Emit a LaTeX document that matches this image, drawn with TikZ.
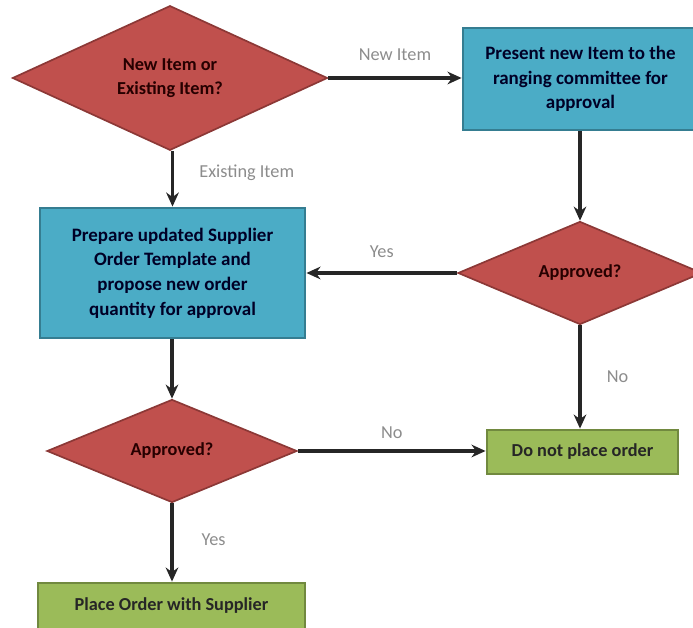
\documentclass[tikz,border=0pt]{standalone}
\usepackage{fontspec}
\setmainfont{Carlito}
\usetikzlibrary{shapes.geometric,arrows.meta}
\definecolor{askfill}{HTML}{C0504D}
\definecolor{askline}{HTML}{8C3836}
\definecolor{dofill}{HTML}{4BACC6}
\definecolor{doline}{HTML}{357D91}
\definecolor{endfill}{HTML}{9BBB59}
\definecolor{endline}{HTML}{71893F}
\tikzset{
  ask/.style={diamond, draw=askline, fill=askfill, line width=1.2pt, inner sep=0pt,
    align=center, text=black!85!red, font=\bfseries\fontsize{13}{17}\selectfont},
  dobox/.style={rectangle, draw=doline, fill=dofill, line width=2pt, inner sep=0pt,
    align=center, text=black!85!blue, font=\bfseries\fontsize{13.5}{17.5}\selectfont},
  endbox/.style={rectangle, draw=endline, fill=endfill, line width=2pt, inner sep=0pt,
    align=center, text=black!85, font=\bfseries\fontsize{13}{17}\selectfont},
  flow/.style={-{Stealth[length=10pt,width=9pt]}, line width=2.2pt, black!85},
  lbl/.style={text=black!45, font=\fontsize{13}{15}\selectfont, inner sep=0pt}
}
\begin{document}
\begin{tikzpicture}[x=0.025cm,y=-0.025cm]
\useasboundingbox (0,0) rectangle (693,628);
\clip (0,0) rectangle (693,628);
\path
      (170,78)  node [ask, minimum width=7.875cm, minimum height=3.425cm] (newq)
                {New Item or\\Existing Item?}
      (580.5,79) node [dobox, minimum width=5.875cm, minimum height=2.55cm] (present)
                {Present new Item to the\\ranging committee for\\approval}
      (580,273) node [ask, minimum width=6.1cm, minimum height=2.575cm] (appr1)
                {Approved?}
      (172.5,273) node [dobox, minimum width=6.625cm, minimum height=3.25cm] (prepare)
                {Prepare updated Supplier\\Order Template and\\propose new order\\quantity for approval}
      (172,451) node [ask, minimum width=6.25cm, minimum height=2.575cm] (appr2)
                {Approved?}
      (582.5,452) node [endbox, minimum width=4.775cm, minimum height=1.1cm] (noorder)
                {Do not place order}
      (171.5,606) node [endbox, minimum width=6.675cm, minimum height=1.15cm] (place)
                {Place Order with Supplier};
\draw[flow] (newq.east) -- node [lbl, above=11pt] {New Item} (newq.east -| present.west);
\draw[flow] (prepare.north |- newq.south) -- node [lbl, right=18pt, yshift=4pt] {Existing Item} (prepare.north);
\draw[flow] (present.south -| appr1.north) -- (appr1.north);
\draw[flow] (appr1.west) -- node [lbl, above=10pt] {Yes} (prepare.east);
\draw[flow] (prepare.south -| appr2.north) -- (appr2.north);
\draw[flow] (appr1.south) -- node [lbl, right=18pt] {No} (appr1.south |- noorder.north);
\draw[flow] (appr2.east) -- node [lbl, above=8pt] {No} (appr2.east -| noorder.west);
\draw[flow] (appr2.south) -- node [lbl, right=20pt, yshift=2pt] {Yes} (appr2.south |- place.north);
\end{tikzpicture}
\end{document}
